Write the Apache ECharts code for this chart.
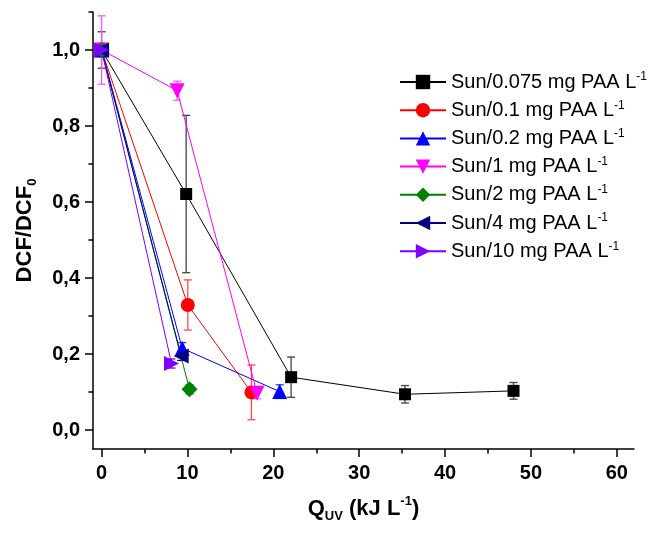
<!DOCTYPE html>
<html>
<head>
<meta charset="utf-8">
<script src="https://cdn.jsdelivr.net/npm/echarts@6/dist/echarts.min.js"></script>
<style>
  html, body { margin: 0; padding: 0; background: #fff; }
  #chart { width: 652px; height: 540px; }
</style>
</head>
<body>
<div id="chart"></div>
<script>
// Q_UV (kJ/L), DCF/DCF0 and error (±) per PAA dose
const q075 = [0, 9.85, 22.07, 35.33, 47.97]
const c075 = [1.0, 0.621, 0.139, 0.094, 0.103]
const e075 = [0.048, 0.207, 0.053, 0.023, 0.022]

const q01 = [0, 10.04, 17.45]
const c01 = [1.0, 0.329, 0.099]
const e01 = [0.018, 0.066, 0.072]

const q02 = [0, 9.39, 20.74]
const c02 = [1.0, 0.215, 0.101]
const e02 = [0.012, 0.015, 0.018]

const q1 = [0, 8.8, 18.1]
const c1 = [1.0, 0.893, 0.097]
const e1 = [0.09, 0.025, 0.015]

const q2 = [0, 10.24]
const c2 = [1.0, 0.107]
const e2 = [0.01, 0.012]

const q4 = [0, 9.27]
const c4 = [1.0, 0.195]
const e4 = [0.01, 0.012]

const q10 = [0, 8.14]
const c10 = [1.0, 0.175]
const e10 = [0.01, 0.012]

const doseLabels = ['0.075', '0.1', '0.2', '1', '2', '4', '10']
const xTicks = [0, 10, 20, 30, 40, 50, 60]
const xMinorTicks = [5, 15, 25, 35, 45, 55]
const yTicks = [0, 0.2, 0.4, 0.6, 0.8, 1.0]
const yMinorTicks = [0.1, 0.3, 0.5, 0.7, 0.9, 1.1]

const FONT = '"Liberation Sans", Arial, sans-serif'

const sets = [
  { q: q075, c: c075, e: e075, color: '#000000', bar: '#444444', symbol: 'rect', size: 12, rot: 0 },
  { q: q01, c: c01, e: e01, color: '#ff0000', bar: '#ff4a4a', symbol: 'circle', size: 14, rot: 0 },
  { q: q02, c: c02, e: e02, color: '#0000ff', bar: '#3030ff', symbol: 'triangle', size: 15, rot: 0 },
  { q: q1, c: c1, e: e1, color: '#ff00ff', bar: '#ff55ff', symbol: 'triangle', size: 15, rot: 180 },
  { q: q2, c: c2, e: e2, color: '#008000', bar: '#008000', symbol: 'diamond', size: 16, rot: 0 },
  { q: q4, c: c4, e: e4, color: '#000080', bar: '#000080', symbol: 'triangle', size: 15, rot: 90 },
  { q: q10, c: c10, e: e10, color: '#8000ff', bar: '#8000ff', symbol: 'triangle', size: 15, rot: -90 }
]

const names = doseLabels.map(d => 'Sun/' + d + ' mg PAA L')

const series = []
sets.forEach((s, i) => {
  // error bars
  series.push({
    type: 'custom',
    name: names[i] + ' err',
    xAxisIndex: 0,
    yAxisIndex: 0,
    z: 2,
    data: s.q.map((x, k) => [x, s.c[k] - s.e[k], s.c[k] + s.e[k]]),
    renderItem: (params, api) => {
      const top = api.coord([api.value(0), api.value(2)])
      const bot = api.coord([api.value(0), api.value(1)])
      const w = 4
      const st = { stroke: s.bar, lineWidth: 1.3 }
      return {
        type: 'group',
        children: [
          { type: 'line', shape: { x1: top[0], y1: top[1], x2: bot[0], y2: bot[1] }, style: st },
          { type: 'line', shape: { x1: top[0] - w, y1: top[1], x2: top[0] + w, y2: top[1] }, style: st },
          { type: 'line', shape: { x1: bot[0] - w, y1: bot[1], x2: bot[0] + w, y2: bot[1] }, style: st }
        ]
      }
    }
  })
  series.push({
    type: 'line',
    name: names[i],
    xAxisIndex: 0,
    yAxisIndex: 0,
    z: 3,
    data: s.q.map((x, k) => [x, s.c[k]]),
    symbol: s.symbol,
    symbolSize: s.size,
    symbolRotate: s.rot,
    showAllSymbol: true,
    animation: false,
    itemStyle: { color: s.color },
    lineStyle: { color: s.color, width: 1 }
  })
})

const chart = echarts.init(document.getElementById('chart'))

chart.setOption({
  backgroundColor: '#ffffff',
  animation: false,
  textStyle: { fontFamily: FONT },
  grid: { left: 93, right: 18, top: 12, bottom: 91 },
  legend: {
    data: names,
    orient: 'vertical',
    left: 399,
    top: 71,
    padding: 0,
    itemWidth: 46,
    itemHeight: 18,
    itemGap: 7.2,
    formatter: n => '{t|' + n + '}{s|-1}',
    textStyle: {
      rich: {
        t: { fontFamily: FONT, fontSize: 20, color: '#000', lineHeight: 22 },
        s: { fontFamily: FONT, fontSize: 12, color: '#000', lineHeight: 22, verticalAlign: 'top' }
      }
    }
  },
  xAxis: [
    {
      type: 'value',
      min: -1,
      max: 62,
      name: '{b|Q}{sub|UV}{b| (kJ L}{sup|-1}{b|)}',
      nameLocation: 'middle',
      nameGap: 46,
      nameTextStyle: {
        rich: {
          b: { fontFamily: FONT, fontSize: 22, fontWeight: 'bold', color: '#000', lineHeight: 28 },
          sub: { fontFamily: FONT, fontSize: 13, fontWeight: 'bold', color: '#000', lineHeight: 28, verticalAlign: 'bottom' },
          sup: { fontFamily: FONT, fontSize: 13, fontWeight: 'bold', color: '#000', lineHeight: 28, verticalAlign: 'top' }
        }
      },
      axisLine: { onZero: false, lineStyle: { color: '#000', width: 1.5 } },
      axisTick: { customValues: xTicks, length: 8, lineStyle: { color: '#000', width: 1.5 } },
      axisLabel: {
        customValues: xTicks,
        margin: 14,
        fontFamily: FONT,
        fontSize: 20,
        fontWeight: 'bold',
        color: '#000'
      },
      splitLine: { show: false }
    },
    {
      type: 'value',
      min: -1,
      max: 62,
      position: 'bottom',
      axisLine: { show: false, onZero: false },
      axisTick: { customValues: xMinorTicks, length: 4.5, lineStyle: { color: '#000', width: 1.5 } },
      axisLabel: { show: false },
      splitLine: { show: false }
    }
  ],
  yAxis: [
    {
      type: 'value',
      min: -0.05,
      max: 1.1,
      name: '{b|DCF/DCF}{sub|0}',
      nameLocation: 'middle',
      nameRotate: 90,
      nameGap: 54,
      nameTextStyle: {
        rich: {
          b: { fontFamily: FONT, fontSize: 22, fontWeight: 'bold', color: '#000', lineHeight: 28 },
          sub: { fontFamily: FONT, fontSize: 13, fontWeight: 'bold', color: '#000', lineHeight: 28, verticalAlign: 'bottom' }
        }
      },
      axisLine: { show: true, onZero: false, lineStyle: { color: '#000', width: 1.5 } },
      axisTick: { show: true, customValues: yTicks, length: 8, lineStyle: { color: '#000', width: 1.5 } },
      axisLabel: {
        customValues: yTicks,
        margin: 13,
        fontFamily: FONT,
        fontSize: 20,
        fontWeight: 'bold',
        color: '#000',
        formatter: v => v.toFixed(1).replace('.', ',')
      },
      splitLine: { show: false }
    },
    {
      type: 'value',
      min: -0.05,
      max: 1.1,
      position: 'left',
      axisLine: { show: false, onZero: false },
      axisTick: { show: true, customValues: yMinorTicks, length: 4.5, lineStyle: { color: '#000', width: 1.5 } },
      axisLabel: { show: false },
      splitLine: { show: false }
    }
  ],
  series: series
})
</script>
</body>
</html>
